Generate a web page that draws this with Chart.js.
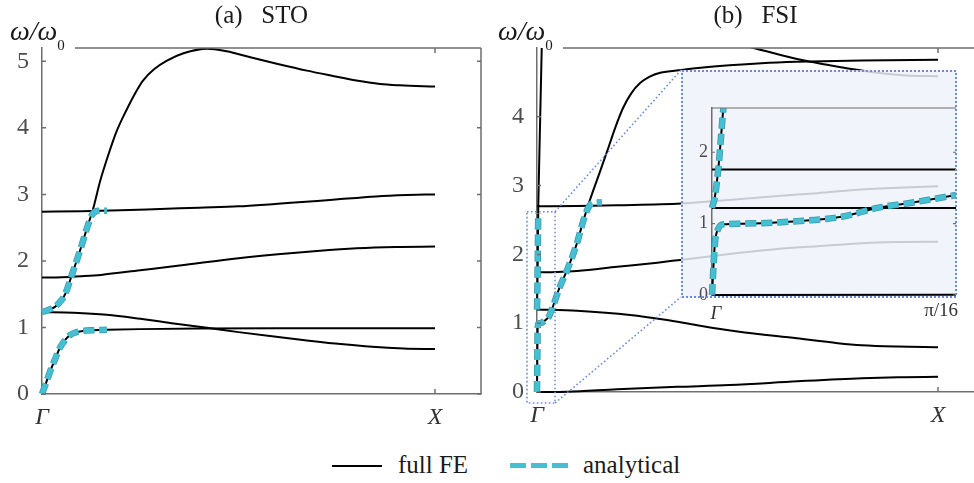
<!DOCTYPE html>
<html lang="en">
<head>
<meta charset="utf-8">
<title>Dispersion curves: STO and FSI</title>
<script src="https://cdn.jsdelivr.net/npm/chart.js@4.4.1/dist/chart.umd.min.js"></script>
<style>
  body { margin: 0; background: #fff; }
  #wrap { position: relative; width: 974px; height: 483px; overflow: hidden; }
  #wrap canvas { position: absolute; top: 0; }
  #chartA { left: 0; }
  #chartB { left: 487px; }
  #wrap #inset { left: 681px; top: 70px; }
  .key { position: absolute; top: 452px; font: 25px "Liberation Serif", serif; line-height: 25px; color: #1a1a1a; white-space: nowrap; }
  .swatch { position: absolute; }
</style>
</head>
<body>
<div id="wrap">
  <canvas id="chartA" width="487" height="440"></canvas>
  <canvas id="chartB" width="487" height="440"></canvas>
  <canvas id="inset" width="280" height="258"></canvas>
  <div class="swatch" style="left:332px; top:465px; width:50px; height:2px; background:#000"></div>
  <div class="key" style="left:398px">full FE</div>
  <div class="swatch" style="left:510px; top:463px; width:58px; height:5px; background:repeating-linear-gradient(90deg, #47bfd2 0 16px, transparent 16px 21px)"></div>
  <div class="key" style="left:583px">analytical</div>
</div>
<script>
const FONT = '"Liberation Serif", "Times New Roman", serif';
const AXIS = '#6e6e6e';
const CYAN = '#47bfd2';
const CYAN_EDGE = '#3599ab';
const DOTS = '#6c8cd8';

// k along Γ–X in units of π/a
const kTicks = [0, 1];
const kTickLabels = ['Γ', 'X'];
const stoFreqTicks = [0, 1, 2, 3, 4, 5];
const fsiFreqTicks = [0, 1, 2, 3, 4];
const insetFreqTicks = [0, 1, 2];
const insetKTicks = [0, 0.0625];
const insetKTickLabels = ['Γ', 'π/16'];

// (a) STO, full FE branches as [k, ω/ω0]
const stoFE1 = [[0,0],[0.01,0.16],[0.02,0.33],[0.033,0.52],[0.046,0.7],[0.06,0.82],[0.071,0.885],[0.085,0.925],[0.104,0.948],[0.13,0.958],[0.165,0.965],[0.25,0.975],[0.4,0.985],[0.6,0.99],[0.8,0.99],[1,0.99]];
const stoFE2 = [[0,1.23],[0.08,1.22],[0.165,1.19],[0.25,1.13],[0.33,1.065],[0.42,0.995],[0.5,0.93],[0.58,0.87],[0.674,0.805],[0.76,0.75],[0.84,0.71],[0.92,0.685],[1,0.675]];
const stoFE3 = [[0,1.75],[0.05,1.755],[0.1,1.77],[0.15,1.79],[0.25,1.86],[0.35,1.93],[0.5,2.04],[0.6,2.1],[0.7,2.15],[0.8,2.19],[0.9,2.21],[1,2.215]];
const stoFE4 = [[0,2.74],[0.1,2.745],[0.2,2.76],[0.3,2.78],[0.4,2.8],[0.5,2.82],[0.6,2.86],[0.7,2.9],[0.76,2.93],[0.85,2.97],[0.93,2.99],[1,3.0]];
const stoFE5 = [[0,1.23],[0.015,1.26],[0.033,1.31],[0.048,1.4],[0.059,1.5],[0.076,1.79],[0.097,2.16],[0.117,2.54],[0.13,2.78],[0.148,3.2],[0.168,3.58],[0.19,3.95],[0.216,4.28],[0.24,4.55],[0.257,4.71],[0.285,4.88],[0.318,5.01],[0.36,5.12],[0.42,5.19],[0.47,5.15],[0.53,5.06],[0.6,4.96],[0.674,4.86],[0.74,4.78],[0.8,4.71],[0.86,4.66],[0.911,4.64],[1,4.62]];
// (a) STO, analytical
const stoAna1 = [[0,0],[0.01,0.16],[0.02,0.33],[0.033,0.52],[0.046,0.7],[0.06,0.82],[0.071,0.885],[0.085,0.925],[0.104,0.948],[0.13,0.958],[0.165,0.965]];
const stoAna2 = [[0,1.23],[0.015,1.26],[0.033,1.31],[0.048,1.4],[0.059,1.5],[0.076,1.79],[0.097,2.16],[0.117,2.54],[0.127,2.69],[0.14,2.75],[0.165,2.755]];

// (b) FSI, full FE branches
const fsiFE1 = [[0,0],[0.075,0.005],[0.2,0.04],[0.35,0.075],[0.48,0.1],[0.65,0.155],[0.81,0.2],[0.9,0.215],[1,0.22]];
const fsiFE2 = [[0,1.2],[0.1,1.18],[0.232,1.12],[0.32,1.05],[0.4,0.97],[0.5,0.88],[0.648,0.78],[0.75,0.71],[0.81,0.68],[0.9,0.66],[1,0.65]];
const fsiFE3 = [[0,1.74],[0.05,1.745],[0.1,1.76],[0.2,1.82],[0.3,1.88],[0.357,1.92],[0.5,2.02],[0.6,2.08],[0.7,2.12],[0.8,2.16],[0.9,2.18],[1,2.185]];
const fsiFE4 = [[0,2.7],[0.1,2.705],[0.2,2.715],[0.36,2.74],[0.5,2.8],[0.6,2.85],[0.7,2.89],[0.8,2.94],[0.9,2.97],[1,2.99]];
const fsiFE5 = [[0,0],[0.0008,0.5],[0.0016,0.93],[0.003,0.99],[0.008,1.0],[0.02,1.04],[0.03,1.1],[0.037,1.2],[0.045,1.33],[0.057,1.53],[0.075,1.77],[0.1,2.17],[0.115,2.48],[0.132,2.79],[0.152,3.12],[0.175,3.5],[0.195,3.84],[0.214,4.12],[0.235,4.34],[0.257,4.49],[0.28,4.58],[0.307,4.64],[0.36,4.68],[0.42,4.72],[0.48,4.75],[0.56,4.78],[0.648,4.8],[0.81,4.82],[1,4.83]];
const fsiFE6 = [[0,1.2],[0.0012,1.6],[0.002,2.0],[0.003,2.6],[0.005,3.2],[0.008,4.0],[0.0118,5.0]];
const fsiFE7 = [[0.4,5.22],[0.47,5.1],[0.54,5.0],[0.6,4.91],[0.673,4.81],[0.73,4.75],[0.78,4.7],[0.85,4.64],[0.92,4.6],[1,4.59]];
// (b) FSI, analytical
const fsiAna1 = [[0,0],[0.0008,0.5],[0.0016,0.93],[0.003,0.99],[0.008,1.0],[0.02,1.04],[0.03,1.1],[0.037,1.2],[0.045,1.33],[0.057,1.53],[0.075,1.77],[0.1,2.17],[0.115,2.48],[0.127,2.67],[0.14,2.75],[0.162,2.755]];
const fsiAna2 = [[0,1.2],[0.0012,1.6],[0.002,2.0],[0.003,2.6]];

// (b) zoom on 0 < k < π/16
const insetFloor = [[0,0],[0.0625,0.004]];
const insetFlatLow = [[0,1.22],[0.0625,1.22]];
const insetFlatHigh = [[0,1.76],[0.0625,1.76]];
const insetLower = [[0,0],[0.000375,0.4],[0.00075,0.73],[0.0016,0.93],[0.0029,0.99],[0.0079,1.0],[0.0208,1.03],[0.0336,1.1],[0.0423,1.22],[0.0507,1.29],[0.0625,1.4]];
const insetFluid = [[0,1.22],[0.00075,1.38],[0.0016,1.76],[0.0021,2.07],[0.0029,2.61],[0.0033,2.8]];

Chart.defaults.font.family = FONT;
Chart.defaults.animation = false;
Chart.defaults.events = [];
Chart.defaults.plugins.legend.display = false;
Chart.defaults.plugins.tooltip.enabled = false;

const pts = rows => rows.map(([x, y]) => ({ x, y }));
const CLIP = { left: 8, top: 0, right: 0, bottom: 8 };
const base = { showLine: true, pointRadius: 0, cubicInterpolationMode: 'monotone', clip: CLIP };
const fe = rows => Object.assign({ data: pts(rows), borderColor: '#000', borderWidth: 2, order: 2 }, base);
// analytical curves: cyan dashes over a slightly darker dash of the same pattern
const ana = rows => [
  Object.assign({ data: pts(rows), borderColor: CYAN, borderWidth: 5, borderDash: [11, 5], order: 0 }, base),
  Object.assign({ data: pts(rows), borderColor: CYAN_EDGE, borderWidth: 6.5, borderDash: [11, 5], order: 1 }, base)
];

function kAxis(max, height) {
  return {
    type: 'linear', min: 0, max,
    afterBuildTicks: s => { s.ticks = kTicks.map(value => ({ value })); },
    afterFit: s => { s.height = height; },
    grid: { display: false, drawTicks: false },
    border: { display: true, color: AXIS, width: 1.5 },
    ticks: {
      autoSkip: false, maxRotation: 0, padding: 9, color: '#333',
      font: { size: 24, style: 'italic' },
      callback: v => kTickLabels[kTicks.indexOf(v)]
    }
  };
}

function freqAxis(max, ticks, width, size, pad) {
  return {
    type: 'linear', min: 0, max,
    afterBuildTicks: s => { s.ticks = ticks.map(value => ({ value })); },
    afterFit: s => { s.width = width; },
    grid: { display: false, drawTicks: false },
    border: { display: true, color: AXIS, width: 1.5 },
    ticks: { padding: pad, color: '#4d4d4d', font: { size } }
  };
}

// top / right frame, inward ticks and the ω/ω0 label
const frame = {
  id: 'frame',
  afterDraw(chart, args, o) {
    const { ctx, chartArea: a, scales: { x, y } } = chart;
    ctx.save();
    ctx.strokeStyle = AXIS;
    ctx.lineWidth = 1.5;
    ctx.beginPath();
    ctx.moveTo(a.left + o.topGap, a.top);
    ctx.lineTo(a.right, a.top);
    if (o.rightBorder) {
      ctx.moveTo(a.right, a.top);
      ctx.lineTo(a.right, a.bottom);
    }
    y.ticks.forEach(t => {
      const py = y.getPixelForValue(t.value);
      ctx.moveTo(a.left, py); ctx.lineTo(a.left + 4, py);
      if (o.rightBorder) { ctx.moveTo(a.right, py); ctx.lineTo(a.right - 4, py); }
    });
    const px = x.getPixelForValue(kTicks[1]);
    ctx.moveTo(px, a.top); ctx.lineTo(px, a.top + 5);
    ctx.moveTo(px, a.bottom); ctx.lineTo(px, a.bottom - 5);
    ctx.stroke();

    ctx.fillStyle = '#1a1a1a';
    ctx.textBaseline = 'alphabetic';
    ctx.textAlign = 'left';
    ctx.font = 'italic 28px ' + FONT;
    const lx = a.left + o.labelDx;
    ctx.fillText('ω/ω', lx, a.top - 8);
    const w = ctx.measureText('ω/ω').width;
    ctx.font = '15px ' + FONT;
    ctx.fillText('0', lx + w, a.top + 2);
    ctx.restore();
  }
};

let insetChart = null;

// dotted box round Γ in (b) and its leader lines to the zoom panel
const zoomBox = {
  id: 'zoomBox',
  afterDatasetsDraw(chart, args, o) {
    const { ctx, scales: { x, y } } = chart;
    const x0 = x.getPixelForValue(o.kFrom), x1 = x.getPixelForValue(o.kTo);
    const y0 = y.getPixelForValue(o.vTo), y1 = y.getPixelForValue(o.vFrom);
    ctx.save();
    ctx.strokeStyle = DOTS;
    ctx.lineWidth = 1.6;
    ctx.setLineDash([1.6, 2.4]);
    ctx.strokeRect(x0, y0, x1 - x0, y1 - y0);
    if (insetChart) {
      const ia = insetChart.chartArea;
      const dx = insetChart.canvas.offsetLeft - chart.canvas.offsetLeft;
      const dy = insetChart.canvas.offsetTop - chart.canvas.offsetTop;
      ctx.beginPath();
      ctx.moveTo(x1, y0); ctx.lineTo(dx, dy);
      ctx.moveTo(x1, y1); ctx.lineTo(dx, dy + ia.bottom + 2);
      ctx.stroke();
    }
    ctx.restore();
  }
};

const insetFrame = {
  id: 'insetFrame',
  beforeDraw(chart) {
    const { ctx, chartArea: a } = chart;
    ctx.save();
    ctx.fillStyle = 'rgba(238, 242, 249, 0.84)';
    ctx.fillRect(0, 0, a.right + 1, a.bottom + 2);
    ctx.restore();
  },
  afterDraw(chart) {
    const { ctx, chartArea: a, scales: { x, y } } = chart;
    ctx.save();
    ctx.strokeStyle = AXIS;
    ctx.lineWidth = 1.2;
    ctx.beginPath();
    ctx.moveTo(a.left, a.top); ctx.lineTo(a.right, a.top);
    y.ticks.forEach(t => {
      const py = y.getPixelForValue(t.value);
      ctx.moveTo(a.left, py); ctx.lineTo(a.left + 3, py);
      ctx.moveTo(a.right, py); ctx.lineTo(a.right - 3, py);
    });
    ctx.stroke();

    ctx.strokeStyle = DOTS;
    ctx.lineWidth = 2;
    ctx.setLineDash([2, 2]);
    ctx.strokeRect(1, 1, a.right - 1, a.bottom + 1);
    ctx.setLineDash([]);

    ctx.fillStyle = '#333';
    ctx.textBaseline = 'top';
    ctx.font = 'italic 19px ' + FONT;
    ctx.textAlign = 'center';
    ctx.fillText(insetKTickLabels[0], x.getPixelForValue(insetKTicks[0]) + 4, a.bottom + 9);
    ctx.font = '19px ' + FONT;
    ctx.textAlign = 'right';
    ctx.fillText(insetKTickLabels[1], x.getPixelForValue(insetKTicks[1]) + 2, a.bottom + 7);
    ctx.restore();
  }
};

function title(text) {
  return {
    display: true, text, fullSize: false, color: '#1a1a1a',
    font: { size: 25, weight: 'normal', lineHeight: 1 },
    padding: { top: 4, bottom: 19 }
  };
}

insetChart = new Chart(document.getElementById('inset'), {
  type: 'scatter',
  data: {
    datasets: [
      ...ana(insetLower), ...ana(insetFluid),
      fe(insetFloor), fe(insetFlatLow), fe(insetFlatHigh), fe(insetLower), fe(insetFluid)
    ]
  },
  options: {
    responsive: false,
    layout: { padding: { top: 38, right: 5 } },
    scales: {
      x: {
        type: 'linear', min: 0, max: insetKTicks[1],
        afterFit: s => { s.height = 33; },
        grid: { display: false, drawTicks: false },
        border: { display: false },
        ticks: { display: false }
      },
      y: freqAxis(2.62, insetFreqTicks, 31, 18, 4)
    },
    plugins: { insetFrame: {} }
  },
  plugins: [insetFrame]
});

new Chart(document.getElementById('chartA'), {
  type: 'scatter',
  data: {
    datasets: [
      ...ana(stoAna1), ...ana(stoAna2),
      fe(stoFE1), fe(stoFE2), fe(stoFE3), fe(stoFE4), fe(stoFE5)
    ]
  },
  options: {
    responsive: false,
    layout: { padding: { right: 6 } },
    scales: { x: kAxis(1.117, 46), y: freqAxis(5.2, stoFreqTicks, 42, 24, 13) },
    plugins: {
      title: title('(a)   STO'),
      frame: { topGap: 33, labelDx: -32, rightBorder: true }
    }
  },
  plugins: [frame]
});

new Chart(document.getElementById('chartB'), {
  type: 'scatter',
  data: {
    datasets: [
      ...ana(fsiAna1), ...ana(fsiAna2),
      fe(fsiFE1), fe(fsiFE2), fe(fsiFE3), fe(fsiFE4), fe(fsiFE5), fe(fsiFE6), fe(fsiFE7)
    ]
  },
  options: {
    responsive: false,
    scales: { x: kAxis(1.0898, 48), y: freqAxis(5.0, fsiFreqTicks, 50, 24, 13) },
    plugins: {
      title: title('(b)   FSI'),
      frame: { topGap: 26, labelDx: -39, rightBorder: false },
      zoomBox: { kFrom: -0.025, kTo: 0.045, vFrom: -0.16, vTo: 2.62 }
    }
  },
  plugins: [frame, zoomBox]
});
</script>
</body>
</html>
